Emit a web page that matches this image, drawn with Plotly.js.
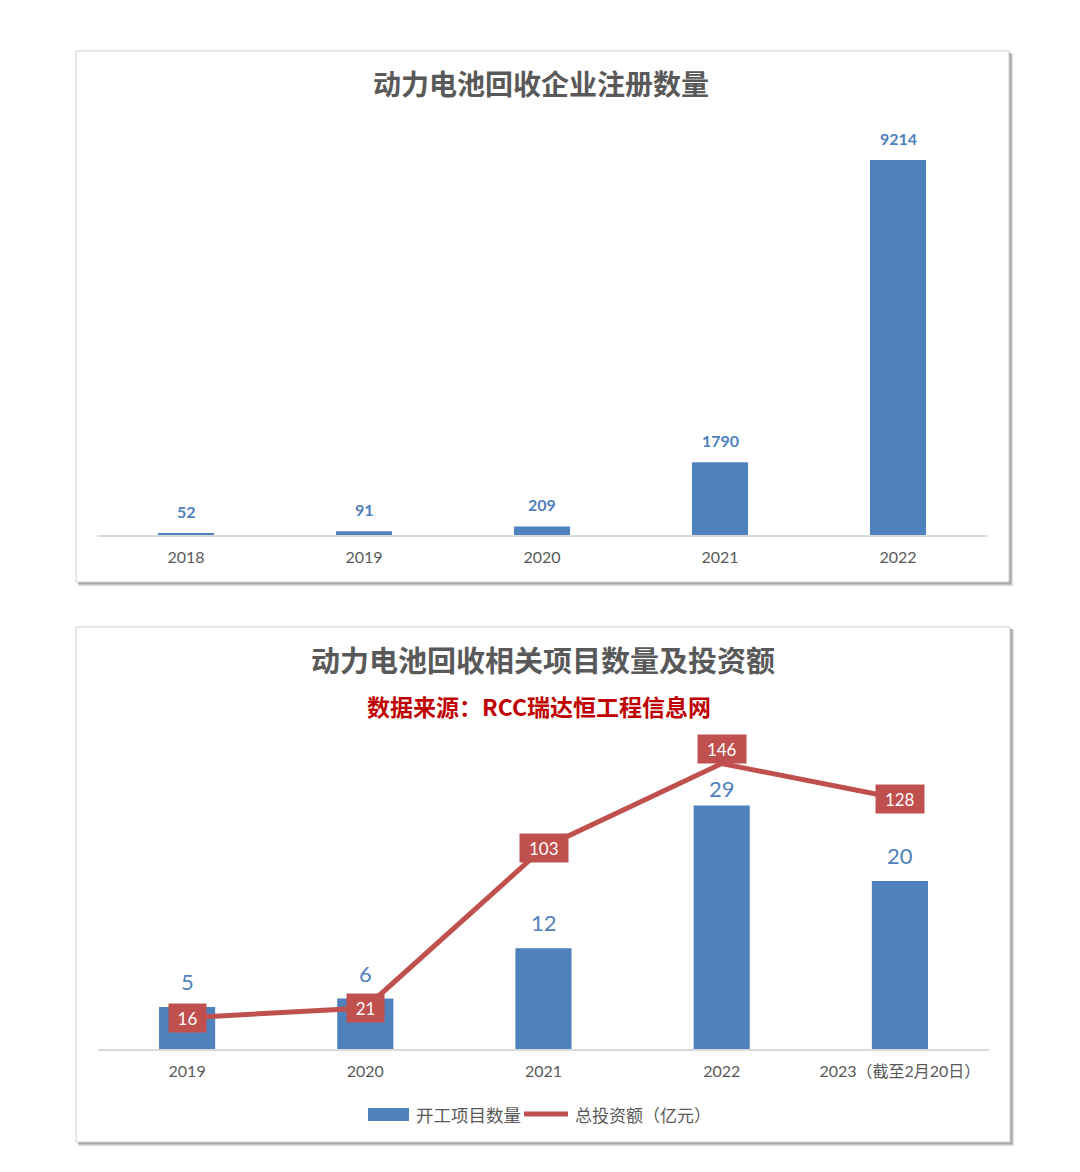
<!DOCTYPE html>
<html>
<head>
<meta charset="utf-8">
<script src="https://cdn.plot.ly/plotly-3.0.1.min.js"></script>
<style>
html,body{margin:0;padding:0;background:#fff;}
#chart{width:1080px;height:1172px;}
</style>
</head>
<body>
<div id="chart"></div>
<script>
// ---- data ----
const title1 = '动力电池回收企业注册数量';
const years1 = ['2018', '2019', '2020', '2021', '2022'];
const registrations = [52, 91, 209, 1790, 9214];

const title2 = '动力电池回收相关项目数量及投资额';
const subtitle2 = '数据来源：RCC瑞达恒工程信息网';
const years2 = ['2019', '2020', '2021', '2022', '2023（截至2月20日）'];
const projects = [5, 6, 12, 29, 20];
const investment = [16, 21, 103, 146, 128];
const seriesNames = ['开工项目数量', '总投资额（亿元）'];

// ---- styling ----
const W = 1080, H = 1172;
const px = x => x / W;
const py = y => 1 - y / H;
const BLUE = '#4f81bd';
const RED = '#c0504d';
const GRAY = '#595959';
const NUMFONT = 'Lato, "Noto Sans CJK SC", sans-serif';
const CJK = '"Noto Sans CJK SC", sans-serif';

const traces = [
  {
    type: 'bar', x: years1, y: registrations, xaxis: 'x', yaxis: 'y',
    marker: {color: BLUE}, width: 0.315, hoverinfo: 'none', showlegend: false
  },
  {
    type: 'bar', x: years2, y: projects, xaxis: 'x2', yaxis: 'y2', name: seriesNames[0],
    marker: {color: BLUE}, width: 0.315, hoverinfo: 'none', showlegend: false
  },
  {
    type: 'scatter', mode: 'lines', x: years2, y: investment, xaxis: 'x2', yaxis: 'y3', name: seriesNames[1],
    line: {color: RED, width: 5}, hoverinfo: 'none', showlegend: false, cliponaxis: false
  }
];

function panel(x0, y0, x1, y1) {
  return [
    {type: 'rect', xref: 'paper', yref: 'paper', layer: 'below',
     x0: px(x0 + 3), x1: px(x1 + 4), y0: py(y0 + 3), y1: py(y1 + 4),
     fillcolor: '#dcdcdc', line: {width: 0}},
    {type: 'rect', xref: 'paper', yref: 'paper', layer: 'below',
     x0: px(x0 + 2), x1: px(x1 + 2.5), y0: py(y0 + 2), y1: py(y1 + 2.5),
     fillcolor: '#a9a9a9', line: {width: 0}},
    {type: 'rect', xref: 'paper', yref: 'paper', layer: 'below',
     x0: px(x0), x1: px(x1), y0: py(y0), y1: py(y1),
     fillcolor: '#ffffff', line: {color: '#d0d0d0', width: 1}}
  ];
}

const shapes = [
  ...panel(76, 51, 1009, 582),
  ...panel(76, 627, 1010, 1142),
  // custom legend symbols
  {type: 'rect', xref: 'paper', yref: 'paper', x0: px(368), x1: px(409), y0: py(1108), y1: py(1121),
   fillcolor: BLUE, line: {width: 0}},
  {type: 'line', xref: 'paper', yref: 'paper', x0: px(524), x1: px(568), y0: py(1114), y1: py(1114),
   line: {color: RED, width: 5}}
];

const annotations = [
  {text: title1, xref: 'paper', yref: 'paper', x: px(541), y: py(83), showarrow: false,
   xanchor: 'center', yanchor: 'middle', font: {family: CJK, size: 28, color: GRAY, weight: 'bold'}},
  {text: title2, xref: 'paper', yref: 'paper', x: px(543), y: py(659), showarrow: false,
   xanchor: 'center', yanchor: 'middle', font: {family: CJK, size: 29, color: GRAY, weight: 'bold'}},
  {text: subtitle2, xref: 'paper', yref: 'paper', x: px(539), y: py(706), showarrow: false,
   xanchor: 'center', yanchor: 'middle', font: {family: CJK, size: 23, color: '#c00000', weight: 'bold'}},
  {text: seriesNames[0], xref: 'paper', yref: 'paper', x: px(414), y: py(1114), showarrow: false,
   xanchor: 'left', yanchor: 'middle', font: {family: CJK, size: 17.5, color: GRAY}},
  {text: seriesNames[1], xref: 'paper', yref: 'paper', x: px(573), y: py(1114), showarrow: false,
   xanchor: 'left', yanchor: 'middle', font: {family: CJK, size: 17, color: GRAY}}
];

// annotation x uses the category index on the category axis
registrations.forEach((v, i) => annotations.push({
  text: String(v), x: i, y: v, xref: 'x', yref: 'y', showarrow: false,
  xanchor: 'center', yanchor: 'bottom', yshift: 10,
  font: {family: NUMFONT, size: 16, color: BLUE, weight: 'bold'}
}));
const maxInv = Math.max(...investment);
const peakIdx = investment.indexOf(maxInv);
projects.forEach((v, i) => annotations.push({
  text: String(v), x: i, y: v, xref: 'x2', yref: 'y2', showarrow: false,
  xanchor: 'center', yanchor: 'bottom', yshift: i === peakIdx ? 1 : 10,
  font: {family: NUMFONT, size: 22, color: BLUE}
}));
investment.forEach((v, i) => annotations.push({
  text: String(v), x: i, y: v, xref: 'x2', yref: 'y3', showarrow: false,
  xanchor: 'center', yanchor: i === peakIdx ? 'bottom' : 'middle',
  bgcolor: RED, borderpad: 3, width: String(v).length * 10.5 + 10, height: 22,
  font: {family: NUMFONT, size: 17, color: '#ffffff'}
}));

const xCommon = {
  type: 'category', showgrid: false, zeroline: false, showline: true,
  linecolor: '#d9d9d9', linewidth: 1.5, ticks: 'outside', ticklen: 7,
  tickcolor: 'rgba(0,0,0,0)', tickfont: {family: NUMFONT, size: 16, color: GRAY},
  range: [-0.5, 4.5], autorange: false
};
const yHidden = {showgrid: false, zeroline: false, showline: false, showticklabels: false, ticks: '', autorange: false};

const layout = {
  width: W, height: H,
  margin: {l: 0, r: 0, t: 0, b: 0},
  paper_bgcolor: '#ffffff', plot_bgcolor: 'rgba(0,0,0,0)',
  showlegend: false,
  xaxis: Object.assign({}, xCommon, {domain: [px(97), px(987)], anchor: 'y'}),
  yaxis: Object.assign({}, yHidden, {domain: [py(535), py(128)], range: [0, 10000], anchor: 'x'}),
  xaxis2: Object.assign({}, xCommon, {domain: [px(98), px(989)], anchor: 'y2'}),
  yaxis2: Object.assign({}, yHidden, {domain: [py(1049), py(755)], range: [0, 35], anchor: 'x2'}),
  yaxis3: Object.assign({}, yHidden, {overlaying: 'y2', side: 'right', range: [0, 150.4], anchor: 'x2'}),
  shapes: shapes,
  annotations: annotations
};

Plotly.newPlot('chart', traces, layout, {staticPlot: true, displayModeBar: false});
</script>
</body>
</html>
